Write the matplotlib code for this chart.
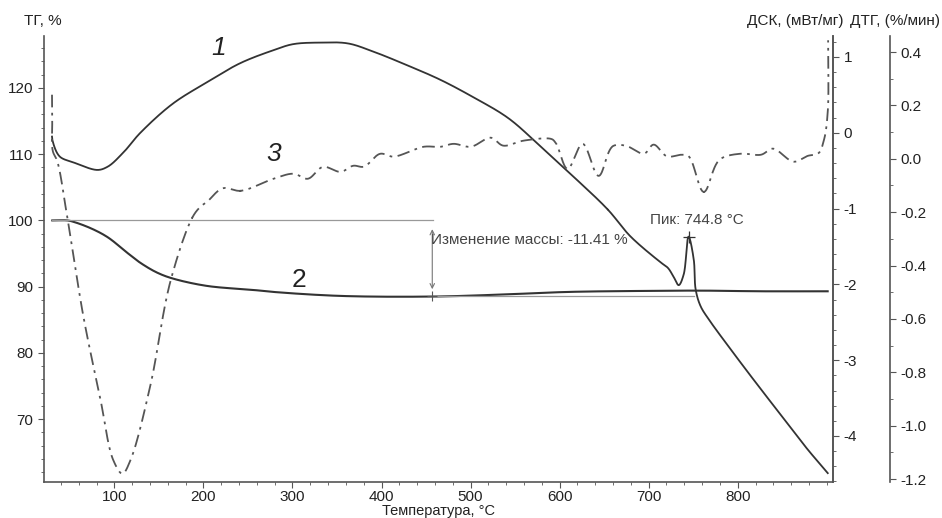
# Термический анализ: ДСК (1), ТГ (2), ДТГ (3)
import numpy as np
import matplotlib.pyplot as plt
from matplotlib.ticker import MultipleLocator, FormatStrFormatter

plt.rcParams['font.family'] = ['Liberation Sans', 'DejaVu Sans']
plt.rcParams['axes.unicode_minus'] = False

# curve 1 - ДСК, мВт/мг
dsc_t = [30.0, 30.3, 39.3, 53.9, 80.9, 92.1, 110.1, 129.2, 166.3, 204.5, 241.6,
         278.7, 301.0, 330.0, 361.8, 391.0, 429.0, 466.0, 503.0, 541.6, 578.6,
         615.7, 653.9, 679.8, 713.5, 721.4, 728.0, 733.7, 739.3, 744.8, 750.6,
         752.8, 758.4, 767.4, 795.5, 818.0, 867.4, 878.7, 901.1]
dsc_v = [-0.05, -0.09, -0.32, -0.39, -0.49, -0.45, -0.26, 0.0, 0.39, 0.67, 0.92,
         1.09, 1.17, 1.19, 1.18, 1.07, 0.89, 0.70, 0.47, 0.20, -0.18,
         -0.58, -1.01, -1.37, -1.71, -1.78, -1.90, -2.01, -1.87, -1.37, -1.67,
         -2.07, -2.29, -2.46, -2.91, -3.26, -4.01, -4.18, -4.49]

# curve 2 - ТГ, %
tg_t = [30.3, 47.2, 53.9, 73.0, 92.1, 114.6, 129.2, 148.3, 166.3, 204.5, 256.2,
        278.7, 353.9, 455.0, 533.7, 609.0, 691.0, 758.0, 826.0, 901.0]
tg_v = [100.0, 100.0, 99.8, 98.85, 97.5, 95.1, 93.6, 92.1, 91.2, 90.1, 89.5,
        89.2, 88.6, 88.5, 88.8, 89.2, 89.35, 89.4, 89.3, 89.3]

# curve 3 - ДТГ, %/мин
dtg_t = [30.0, 30.3, 30.8, 36.0, 47.2, 65.2, 84.3, 98.9, 109.0, 118.0, 140.4,
         162.9, 187.6, 196.6, 204.5, 222.5, 241.6, 278.7, 301.1, 316.9, 334.8,
         353.9, 368.5, 379.8, 398.9, 413.5, 447.2, 466.3, 480.9, 500.0, 522.5,
         537.1, 559.6, 589.9, 595.5, 609.0, 625.8, 643.8, 660.7, 674.2, 694.4,
         705.6, 721.4, 736.0, 743.9, 761.9, 780.9, 803.4, 825.9, 839.4, 863.0,
         878.7, 889.9, 896.6, 901.1, 901.5]
dtg_v = [0.24, 0.15, 0.03, -0.01, -0.22, -0.59, -0.90, -1.13, -1.18, -1.13, -0.85,
         -0.46, -0.22, -0.18, -0.16, -0.11, -0.12, -0.075, -0.056, -0.075, -0.03,
         -0.049, -0.026, -0.03, 0.019, 0.008, 0.045, 0.045, 0.056, 0.045, 0.079,
         0.049, 0.068, 0.075, 0.06, -0.038, 0.056, -0.064, 0.049, 0.049, 0.019,
         0.053, 0.008, 0.015, 0.012, -0.124, 0.0, 0.019, 0.015, 0.038, -0.011,
         0.011, 0.019, 0.068, 0.177, 0.444]

tg_start = 100.0
mass_change = -11.41
peak_t = 744.8
peak_v = -1.37

spine_c = '#555555'
line_c = '#333333'
fs = 11


def catmull(t, v, xs, ys, n=30):
    """
    Centripetal Catmull-Rom through the read points.
    xs, ys - scale of the axis, so the parametrisation is in screen units
    """
    p = np.column_stack([np.asarray(t) / xs, np.asarray(v) / ys])
    p = np.vstack([2 * p[0] - p[1], p, 2 * p[-1] - p[-2]])
    out = []
    for i in range(1, len(p) - 2):
        p0, p1, p2, p3 = p[i - 1], p[i], p[i + 1], p[i + 2]
        t0 = 0.
        t1 = t0 + np.linalg.norm(p1 - p0) ** 0.5 + 1e-9
        t2 = t1 + np.linalg.norm(p2 - p1) ** 0.5 + 1e-9
        t3 = t2 + np.linalg.norm(p3 - p2) ** 0.5 + 1e-9
        tt = np.linspace(t1, t2, n)[:, None]
        a1 = (t1 - tt) / (t1 - t0) * p0 + (tt - t0) / (t1 - t0) * p1
        a2 = (t2 - tt) / (t2 - t1) * p1 + (tt - t1) / (t2 - t1) * p2
        a3 = (t3 - tt) / (t3 - t2) * p2 + (tt - t2) / (t3 - t2) * p3
        b1 = (t2 - tt) / (t2 - t0) * a1 + (tt - t0) / (t2 - t0) * a2
        b2 = (t3 - tt) / (t3 - t1) * a2 + (tt - t1) / (t3 - t1) * a3
        c = (t2 - tt) / (t2 - t1) * b1 + (tt - t1) / (t2 - t1) * b2
        out.append(c)
    out = np.vstack(out)
    return out[:, 0] * xs, out[:, 1] * ys


fig = plt.figure(figsize=(9.42, 5.18), dpi=100)
ax = fig.add_axes([0.0467, 0.0695, 0.8376, 0.861])
ax2 = ax.twinx()
ax3 = ax.twinx()
ax3.spines['right'].set_position(('outward', 41))

for a in (ax, ax2, ax3):
    a.spines['top'].set_visible(False)
    for s in a.spines.values():
        s.set_color(spine_c)
        s.set_linewidth(1.2)
    a.tick_params(which='both', colors=spine_c, labelcolor='#222222', labelsize=fs)
    a.tick_params(which='major', length=4)
    a.tick_params(which='minor', length=2.5)
for a in (ax2, ax3):
    a.spines['left'].set_visible(False)
    a.spines['bottom'].set_visible(False)

ax.set_xlim(21, 907)
ax.set_ylim(60.5, 127.85)
ax2.set_ylim(-4.607, 1.277)
ax3.set_ylim(-1.211, 0.46)

x1, y1 = catmull(dsc_t, dsc_v, 886, 5.88)
ax2.plot(x1, y1, color=line_c, lw=1.3)
x2, y2 = catmull(tg_t, tg_v, 886, 67.3)
ax.plot(x2, y2, color=line_c, lw=1.5)
x3, y3 = catmull(dtg_t, dtg_v, 886, 1.67)
ax3.plot(x3, y3, color='#555555', lw=1.3, ls=(0, (7, 3, 1.5, 3)))

# mass change marking
ax.plot([30.3, 458], [tg_start, tg_start], color='#999999', lw=0.9)
ax.plot([455, 751], [tg_start + mass_change] * 2, color='#999999', lw=0.9)
ax.annotate('', xy=(457, tg_start + mass_change + 0.6), xytext=(457, tg_start - 0.9),
            arrowprops=dict(arrowstyle='<->', color='#777777', lw=0.8, mutation_scale=8))
ax.plot([457], [tg_start + mass_change], marker='+', color='#555555', ms=7, mew=0.8)
ax.text(456, 97.1, 'Изменение массы: %.2f %%' % mass_change, fontsize=fs,
        color='#444444', va='center', ha='left')

# peak
ax2.plot([peak_t], [peak_v], marker='+', color='#333333', ms=8, mew=0.9)
ax2.text(peak_t + 9, peak_v + 0.13, 'Пик: %.1f °C' % peak_t, fontsize=fs, color='#444444',
         ha='center', va='bottom')

# curve numbers
ax.text(217, 126.1, '1', fontsize=19, style='italic', color='#222222', ha='center', va='center')
ax.text(279, 110.1, '3', fontsize=19, style='italic', color='#222222', ha='center', va='center')
ax.text(307, 91.0, '2', fontsize=19, color='#222222', ha='center', va='center')

ax.xaxis.set_major_locator(MultipleLocator(100))
ax.xaxis.set_minor_locator(MultipleLocator(20))
ax.yaxis.set_major_locator(MultipleLocator(10))
ax.yaxis.set_minor_locator(MultipleLocator(2))
ax2.yaxis.set_major_locator(MultipleLocator(1))
ax2.yaxis.set_minor_locator(MultipleLocator(0.2))
ax3.yaxis.set_major_locator(MultipleLocator(0.2))
ax3.yaxis.set_minor_locator(MultipleLocator(0.1))
ax3.yaxis.set_major_formatter(FormatStrFormatter('%.1f'))
ax.set_xticks([100, 200, 300, 400, 500, 600, 700, 800])
ax.tick_params(axis='x', pad=2)

ax.set_xlabel('Температура, °C', fontsize=10.5, color='#222222', labelpad=0)
fig.text(0.025, 0.945, 'ТГ, %', fontsize=fs, color='#222222', va='bottom')
fig.text(0.895, 0.945, 'ДСК, (мВт/мг)', fontsize=fs, color='#222222', va='bottom', ha='right')
fig.text(0.998, 0.945, 'ДТГ, (%/мин)', fontsize=fs, color='#222222', va='bottom', ha='right')

fig.savefig('out.png', dpi=100)
